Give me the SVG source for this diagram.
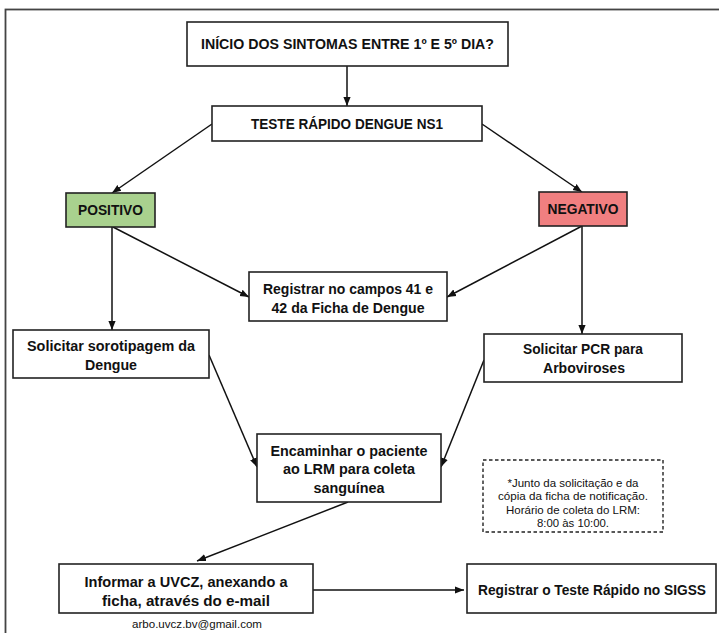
<svg xmlns="http://www.w3.org/2000/svg" width="719" height="633" viewBox="0 0 719 633">
<defs>
<marker id="ah" viewBox="0 0 10 10" refX="10" refY="5" markerWidth="9" markerHeight="9" markerUnits="userSpaceOnUse" orient="auto">
<path d="M0,1 L10,5 L0,9 Z" fill="#111"/>
</marker>
</defs>
<style>
.box{fill:#fff;stroke:#222;stroke-width:1.6}
.t{font-family:"Liberation Sans",Arial,sans-serif;font-weight:bold;font-size:14px;fill:#111;text-anchor:middle}
.n{font-family:"Liberation Sans",Arial,sans-serif;font-size:11px;fill:#111;text-anchor:middle}
.c{fill:none;stroke:#111;stroke-width:1.5;marker-end:url(#ah)}
</style>
<rect x="0" y="0" width="719" height="633" fill="#fff"/>
<rect x="5.5" y="9.5" width="730" height="640" fill="none" stroke="#444" stroke-width="1.8"/>
<g id="connectors">
<line class="c" x1="347" y1="66" x2="347" y2="106"/>
<line class="c" x1="212" y1="124" x2="112" y2="193"/>
<line class="c" x1="482" y1="124" x2="582" y2="192"/>
<line class="c" x1="112" y1="227" x2="112" y2="330"/>
<line class="c" x1="113" y1="227" x2="249" y2="297"/>
<line class="c" x1="582" y1="226" x2="447" y2="297"/>
<line class="c" x1="582" y1="226" x2="582" y2="334"/>
<line class="c" x1="209" y1="355" x2="257" y2="467"/>
<line class="c" x1="484" y1="360" x2="441" y2="467"/>
<line class="c" x1="348" y1="502" x2="197" y2="561"/>
<line class="c" x1="313" y1="590" x2="464" y2="590"/>
</g>
<g id="inicio">
<rect class="box" x="187" y="22" width="321" height="44"/>
<text class="t" x="347.5" y="49" textLength="293" lengthAdjust="spacingAndGlyphs">INÍCIO DOS SINTOMAS ENTRE 1º E 5º DIA?</text>
</g>
<g id="teste">
<rect class="box" x="212" y="106" width="270" height="35"/>
<text class="t" x="347" y="129" textLength="192" lengthAdjust="spacingAndGlyphs">TESTE RÁPIDO DENGUE NS1</text>
</g>
<g id="positivo">
<rect class="box" x="66" y="193" width="89" height="34" style="fill:#a9d18e"/>
<text class="t" x="110.5" y="215" textLength="65" lengthAdjust="spacingAndGlyphs">POSITIVO</text>
</g>
<g id="negativo">
<rect class="box" x="539" y="192" width="88" height="34" style="fill:#f07f80"/>
<text class="t" x="583" y="214" textLength="71" lengthAdjust="spacingAndGlyphs">NEGATIVO</text>
</g>
<g id="registrar-campos">
<rect class="box" x="249" y="272" width="198" height="49"/>
<text class="t" x="348" y="294" textLength="170" lengthAdjust="spacingAndGlyphs">Registrar no campos 41 e</text>
<text class="t" x="348" y="313" textLength="153" lengthAdjust="spacingAndGlyphs">42 da Ficha de Dengue</text>
</g>
<g id="sorotipagem">
<rect class="box" x="13" y="330" width="196" height="48"/>
<text class="t" x="111" y="351" textLength="168" lengthAdjust="spacingAndGlyphs">Solicitar sorotipagem da</text>
<text class="t" x="111" y="370" textLength="52" lengthAdjust="spacingAndGlyphs">Dengue</text>
</g>
<g id="pcr">
<rect class="box" x="484" y="334" width="198" height="48"/>
<text class="t" x="583" y="354" textLength="120" lengthAdjust="spacingAndGlyphs">Solicitar PCR para</text>
<text class="t" x="584" y="373" textLength="82" lengthAdjust="spacingAndGlyphs">Arboviroses</text>
</g>
<g id="encaminhar">
<rect class="box" x="257" y="434" width="184" height="68"/>
<text class="t" x="349" y="456" textLength="157" lengthAdjust="spacingAndGlyphs">Encaminhar o paciente</text>
<text class="t" x="349" y="474" textLength="132" lengthAdjust="spacingAndGlyphs">ao LRM para coleta</text>
<text class="t" x="349" y="493" textLength="71" lengthAdjust="spacingAndGlyphs">sanguínea</text>
</g>
<g id="nota">
<rect x="483" y="460" width="180" height="72" fill="#fff" stroke="#222" stroke-width="1.4" stroke-dasharray="3.5,2.5"/>
<text class="n" x="573" y="487" textLength="131" lengthAdjust="spacingAndGlyphs">*Junto da solicitação e da</text>
<text class="n" x="573" y="500" textLength="150" lengthAdjust="spacingAndGlyphs">cópia da ficha de notificação.</text>
<text class="n" x="573" y="514" textLength="134" lengthAdjust="spacingAndGlyphs">Horário de coleta do LRM:</text>
<text class="n" x="573" y="527" textLength="72" lengthAdjust="spacingAndGlyphs">8:00 às 10:00.</text>
</g>
<g id="informar">
<rect class="box" x="59" y="564" width="254" height="49"/>
<text class="t" x="186" y="587" textLength="203" lengthAdjust="spacingAndGlyphs">Informar a UVCZ, anexando a</text>
<text class="t" x="186" y="606" textLength="168" lengthAdjust="spacingAndGlyphs">ficha, através do e-mail</text>
</g>
<g id="sigss">
<rect class="box" x="467" y="564" width="249" height="49"/>
<text class="t" x="592" y="595" textLength="228" lengthAdjust="spacingAndGlyphs">Registrar o Teste Rápido no SIGSS</text>
</g>
<g id="email">
<text class="n" x="197" y="628" textLength="130" lengthAdjust="spacingAndGlyphs">arbo.uvcz.bv@gmail.com</text>
</g>
</svg>
